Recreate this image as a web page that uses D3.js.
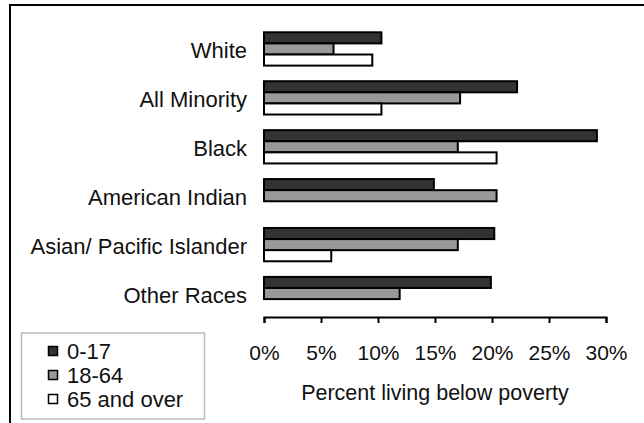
<!DOCTYPE html>
<html>
<head>
<meta charset="utf-8">
<script src="https://cdn.jsdelivr.net/npm/d3@7"></script>
<style>
  body { margin: 0; background: #fff; }
  svg { display: block; font-family: "Liberation Sans", Arial, sans-serif; }
  svg text { font-family: "Liberation Sans", Arial, sans-serif; }
  .tick text { font-size: 21px; fill: #111; }
</style>
</head>
<body>
<div id="chart"></div>
<script>
// data
const categories = ["White", "All Minority", "Black", "American Indian", "Asian/ Pacific Islander", "Other Races"];
const ages = ["0-17", "18-64", "65 and over"];
const age0to17 = [10.3, 22.2, 29.2, 14.9, 20.2, 19.9];
const age18to64 = [6.1, 17.2, 17.0, 20.4, 17.0, 11.9];
const age65plus = [9.5, 10.3, 20.4, null, 5.9, null];
const xTicks = [0, 5, 10, 15, 20, 25, 30];

const width = 644;
const height = 423;
const fontSize = "22px";
const colors = { "0-17": "#333333", "18-64": "#999999", "65 and over": "#ffffff" };

const svg = d3.select("#chart").append("svg")
    .attr("width", width)
    .attr("height", height);

// outer frame, cut by right and bottom edge like the original
svg.append("rect")
    .attr("x", 10).attr("y", 5)
    .attr("width", 800).attr("height", 600)
    .attr("fill", "none")
    .attr("stroke", "#000")
    .attr("stroke-width", 2);

const x = d3.scaleLinear().domain([0, 30]).range([264, 606]);
const y = d3.scaleBand().domain(categories).range([24.5, 318]);
const barH = 11.1;
const sub = d3.scaleBand().domain(ages).range([-barH * 1.5, barH * 1.5]);

const rows = categories.map((c, i) => ({
    cat: c,
    vals: [age0to17[i], age18to64[i], age65plus[i]]
}));

const groups = svg.append("g").selectAll("g")
    .data(rows)
    .join("g")
    .attr("transform", d => `translate(0,${y(d.cat) + y.bandwidth() / 2})`);

groups.selectAll("rect")
    .data(d => d.vals.map((v, j) => ({ key: ages[j], v })).filter(e => e.v != null))
    .join("rect")
    .attr("x", x(0))
    .attr("y", d => sub(d.key))
    .attr("width", d => x(d.v) - x(0))
    .attr("height", sub.bandwidth())
    .attr("fill", d => colors[d.key])
    .attr("stroke", "#000")
    .attr("stroke-width", 2);

// category labels
groups.append("text")
    .attr("x", 247)
    .attr("y", 1.5)
    .attr("dy", "0.35em")
    .attr("text-anchor", "end")
    .attr("font-size", fontSize)
    .attr("fill", "#111")
    .text(d => d.cat);

// x axis
const xAxis = svg.append("g")
    .attr("transform", "translate(0,317)")
    .call(d3.axisBottom(x).tickValues(xTicks).tickFormat(d => d + "%")
        .tickSize(6).tickPadding(22));
xAxis.selectAll("path, line").attr("stroke", "#000").attr("stroke-width", 2);
xAxis.attr("font-family", null);

svg.append("text")
    .attr("x", 435)
    .attr("y", 400)
    .attr("text-anchor", "middle")
    .attr("font-size", "21.5px")
    .attr("fill", "#111")
    .text("Percent living below poverty");

// legend
const legend = svg.append("g");
legend.append("rect")
    .attr("x", 21.5).attr("y", 333)
    .attr("width", 183).attr("height", 86)
    .attr("fill", "#fff")
    .attr("stroke", "#bbbbbb")
    .attr("stroke-width", 1.5);

const items = legend.selectAll("g.item")
    .data(ages)
    .join("g")
    .attr("class", "item")
    .attr("transform", (d, i) => `translate(0,${351 + i * 24})`);
items.append("rect")
    .attr("x", 48.5).attr("y", -4.5)
    .attr("width", 9).attr("height", 9)
    .attr("fill", d => colors[d])
    .attr("stroke", "#000")
    .attr("stroke-width", 1.5);
items.append("text")
    .attr("x", 67)
    .attr("dy", "0.35em")
    .attr("font-size", fontSize)
    .attr("fill", "#111")
    .text(d => d);
</script>
</body>
</html>
